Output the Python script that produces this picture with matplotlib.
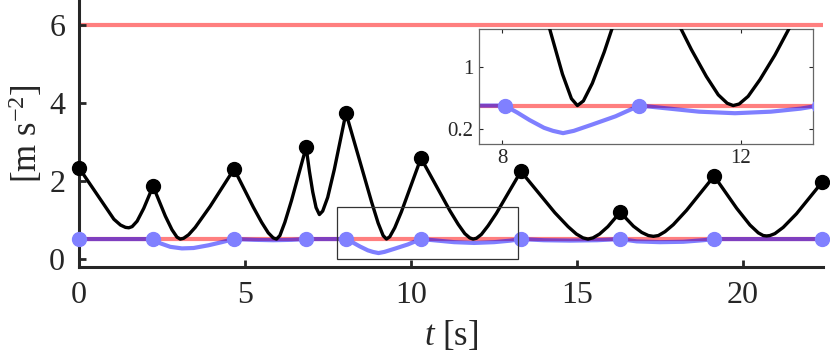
import matplotlib as mpl
mpl.use('Agg')
import matplotlib.pyplot as plt
from matplotlib.patches import Rectangle

#
#--- peak times and values (black dots / blue dots)
#
t_peak = [0.00, 2.23, 4.67, 6.84, 8.04, 10.30, 13.31, 16.30, 19.13, 22.38]
a_peak = [2.33, 1.86, 2.30, 2.86, 3.74, 2.58, 2.24, 1.19, 2.12, 1.96]
b_peak = [0.50, 0.50, 0.50, 0.50, 0.50, 0.50, 0.50, 0.50, 0.50, 0.50]
#
#--- black curve
#
t_black = [0.00, 1.05, 1.25, 1.40, 1.50, 1.60, 1.75, 1.95, 2.23,
           2.60, 2.80, 2.95, 3.05, 3.15, 3.30, 3.50, 3.95, 4.67,
           5.25, 5.50, 5.70, 5.85, 5.95, 6.05, 6.20, 6.40, 6.84,
           6.94, 7.04, 7.14, 7.24, 7.34, 7.49, 7.69, 8.04,
           8.81, 9.01, 9.16, 9.26, 9.36, 9.51, 9.71, 10.30,
           11.17, 11.42, 11.62, 11.77, 11.87, 11.97, 12.12, 12.32, 12.57, 13.31,
           14.33, 14.73, 14.98, 15.18, 15.33, 15.48, 15.68, 15.93, 16.30,
           16.70, 16.95, 17.15, 17.30, 17.45, 17.65, 17.90, 18.30, 19.13,
           19.81, 20.21, 20.46, 20.61, 20.71, 20.81, 20.96, 21.21, 21.61, 22.38]
a_black = [2.33, 1.01, 0.86, 0.80, 0.79, 0.82, 0.96, 1.29, 1.86,
           1.09, 0.74, 0.55, 0.50, 0.52, 0.61, 0.80, 1.34, 2.30,
           1.32, 0.93, 0.66, 0.53, 0.50, 0.59, 0.93, 1.49, 2.86,
           2.24, 1.71, 1.31, 1.13, 1.22, 1.57, 2.29, 3.74,
           1.46, 0.91, 0.59, 0.50, 0.56, 0.79, 1.20, 2.58,
           1.23, 0.88, 0.64, 0.53, 0.50, 0.52, 0.62, 0.84, 1.16, 2.24,
           1.18, 0.82, 0.63, 0.53, 0.50, 0.53, 0.63, 0.82, 1.19,
           0.83, 0.67, 0.59, 0.57, 0.59, 0.69, 0.87, 1.24, 2.12,
           1.29, 0.86, 0.66, 0.59, 0.58, 0.59, 0.64, 0.80, 1.15, 1.96]
#
#--- blue curve
#
t_blue = [0.00, 2.23, 2.45, 2.75, 3.10, 3.45, 3.90, 4.30, 4.67,
          5.30, 5.85, 6.40, 6.84, 8.04,
          8.25, 8.46, 8.70, 8.85, 9.02, 9.20, 9.50, 9.90, 10.30,
          10.80, 11.30, 11.90, 12.50, 13.00, 13.31,
          14.00, 14.80, 15.60, 16.30,
          16.80, 17.50, 18.20, 18.80, 19.13, 22.38]
a_blue = [0.50, 0.50, 0.39, 0.30, 0.26, 0.27, 0.34, 0.42, 0.50,
          0.48, 0.47, 0.48, 0.50, 0.50,
          0.41, 0.31, 0.21, 0.17, 0.14, 0.17, 0.25, 0.36, 0.50,
          0.46, 0.42, 0.40, 0.42, 0.46, 0.50,
          0.47, 0.46, 0.47, 0.50,
          0.44, 0.42, 0.43, 0.47, 0.50, 0.50]
#
#--- limit lines
#
lim_hi = 6.0
lim_lo = 0.5

x_ticks = [0, 5, 10, 15, 20]
y_ticks = [0, 2, 4, 6]
in_xticks = [8, 12]
in_yticks = [0.2, 1]
in_ylabels = ['0.2', '1']

#--- zoom box in the main panel
box = [7.76, 0.0, 13.21, 1.33]

fg = '#262626'


def draw_curves(ax, dots=True, clip=False):
    ax.axhline(lim_hi, color='r', alpha=0.5, lw=3.0, zorder=1)
    ax.axhline(lim_lo, color='r', alpha=0.5, lw=3.0, zorder=1)
    ax.plot(t_blue, a_blue, color='b', alpha=0.5, lw=3.0, zorder=2)
    ax.plot(t_black, a_black, color='k', lw=2.4, zorder=3, solid_joinstyle='round')
    if dots:
        ax.plot(t_peak, a_peak, 'o', color='k', ms=10, zorder=5, clip_on=clip)
    ax.plot(t_peak, b_peak, 'o', color='#8080ff', ms=10, zorder=5, clip_on=clip)


plt.rcParams['font.family'] = 'Liberation Serif'
plt.rcParams['mathtext.fontset'] = 'custom'
plt.rcParams['mathtext.rm'] = 'Liberation Serif'
plt.rcParams['mathtext.it'] = 'Liberation Serif:italic'

fig = plt.figure(figsize=(8.3, 3.57), dpi=100)
#
#--- main panel
#
ax = fig.add_axes([0.0952, 0.253, 0.8964, 0.747])
draw_curves(ax)
ax.set_xlim(0, 22.41)
ax.set_ylim(-0.21, 6.645)
ax.set_xticks(x_ticks)
ax.set_yticks(y_ticks)
for s in ['top', 'right']:
    ax.spines[s].set_visible(False)
for s in ['left', 'bottom']:
    ax.spines[s].set_linewidth(2.2)
    ax.spines[s].set_color(fg)
ax.tick_params(direction='in', length=5, width=2, colors=fg, labelsize=23, pad=10)
ax.set_xlabel(r'$t$ [s]', fontsize=25, color=fg, labelpad=7)
ax.set_ylabel(r'[m s$^{-2}$]', fontsize=25, color=fg, labelpad=3)

ax.add_patch(Rectangle((box[0], box[1]), box[2] - box[0], box[3] - box[1],
                       fill=False, ec='#333333', lw=0.9, zorder=6))
#
#--- inset panel
#
ins = fig.add_axes([0.577, 0.597, 0.402, 0.322])
draw_curves(ins, dots=False, clip=True)
ins.set_xlim(7.61, 13.2)
ins.set_ylim(0, 1.5)
ins.set_xticks(in_xticks)
ins.set_yticks(in_yticks)
ins.set_yticklabels(in_ylabels)
for s in ins.spines.values():
    s.set_linewidth(0.9)
    s.set_color('#666666')
ins.tick_params(direction='in', length=3, width=0.8, colors=fg, labelsize=15,
                top=True, right=True, pad=4)

fig.savefig('out.png', dpi=100)
